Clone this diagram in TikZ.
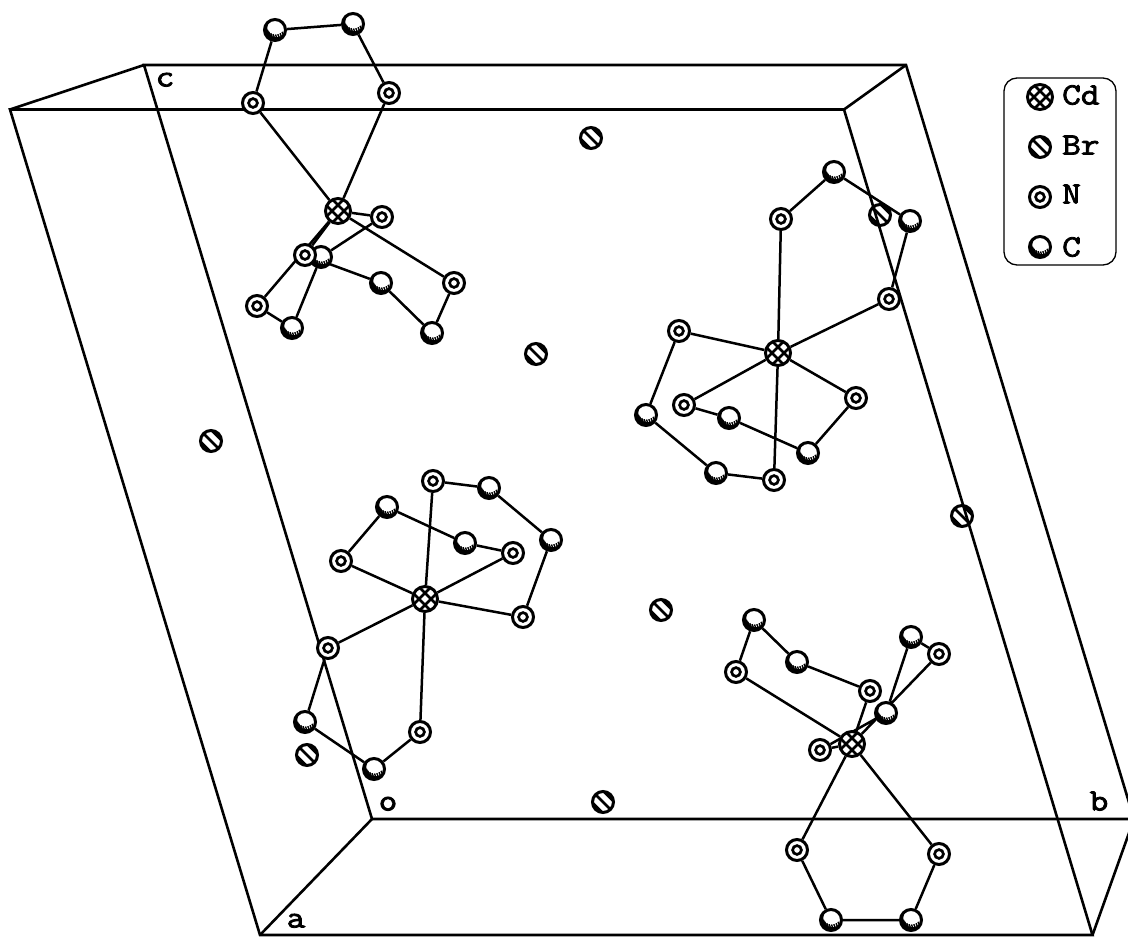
\documentclass[tikz,border=0pt]{standalone}
\usepackage{fontspec}
\newfontfamily\labfont[FakeBold=2.6,FakeStretch=1.17]{Latin Modern Mono}
\usetikzlibrary{backgrounds}
\tikzset{
  x=1pt,y=-1pt,
  cellline/.style={line width=2.6pt,line join=miter},
  bond/.style={line width=2.5pt,line join=round},
  atom/.style={circle,draw,fill=white,inner sep=0pt,line width=3pt,minimum size=21pt},
  nat/.style={atom,path picture={\draw[line width=2.7pt] (path picture bounding box.center) circle (4.4);}},
  cat/.style={atom,path picture={
    \begin{scope}[shift={(path picture bounding box.center)}]
      \path[fill=black,even odd rule] (0,0) circle (13) (1.5,-2) circle (9.3);
      \foreach \px/\py in {8.1/4.6,6.15/6.05,3.9/7,1.5/7.3,-0.9/7,-3.15/6.05,-5.1/4.6,-6.55/2.65}
        \draw[line width=1.4pt] (\px+0.3,\py+0.6) -- (\px-1.1,\py-2.8);
    \end{scope}}},
  brat/.style={atom,path picture={
    \begin{scope}[shift={(path picture bounding box.center)}]
      \foreach \d in {-5.6,0,5.6}
        \draw[line width=2.7pt] (-14+\d,-14-\d) -- (14+\d,14-\d);
    \end{scope}}},
  cdat/.style={atom,minimum size=25pt,path picture={
    \begin{scope}[shift={(path picture bounding box.center)}]
      \foreach \d in {-9,-3,3,9}{
        \draw[line width=2.6pt] (-16+\d,-16-\d) -- (16+\d,16-\d);
        \draw[line width=2.6pt] (-16+\d,16+\d) -- (16+\d,-16+\d);}
    \end{scope}}},
  lab/.style={font=\labfont\fontsize{31}{31}\selectfont,inner sep=0pt,text height=15pt,text depth=0pt},
  legendbox/.style={draw,rounded corners=13pt,line width=1.3pt}
}
\begin{document}
\begin{tikzpicture}
\useasboundingbox (0,0) rectangle (1128,945);
% cell corners
\coordinate (f1) at (10,109.5); \coordinate (f2) at (844,109.5);
\coordinate (f3) at (1092.5,935); \coordinate (f4) at (260,935);
\coordinate (b1) at (144,65); \coordinate (b2) at (906,65);
\coordinate (b3) at (1134,819); \coordinate (b4) at (372,819);
% group 1
\node[cdat] (Aa) at (338,211) {};
\node[nat] (Ab) at (253,103) {};
\node[nat] (Ac) at (389,93) {};
\node[cat] (Ad) at (275,30) {};
\node[cat] (Ae) at (353,24) {};
\node[nat] (Af) at (382,217) {};
\node[cat] (Ag) at (321,257) {};
\node[nat] (Ah) at (305,255) {};
\node[nat] (Ai) at (257,306) {};
\node[cat] (Aj) at (292,328) {};
\node[cat] (Ak) at (381,283) {};
\node[cat] (Al) at (432,333) {};
\node[nat] (Am) at (454,283) {};
% group 2
\node[cdat] (Ba) at (778,353) {};
\node[nat] (Bb) at (781,219) {};
\node[cat] (Bc) at (834,172) {};
\node[cat] (Bd) at (910,221) {};
\node[nat] (Be) at (889,299) {};
\node[nat] (Bf) at (679,331) {};
\node[cat] (Bg) at (646,415) {};
\node[cat] (Bh) at (716,473) {};
\node[nat] (Bi) at (774,480) {};
\node[nat] (Bj) at (684,405) {};
\node[cat] (Bk) at (729,418) {};
\node[cat] (Bl) at (808,453) {};
\node[nat] (Bm) at (856,398) {};
% group 3
\node[cdat] (Ca) at (425,599) {};
\node[nat] (Cb) at (433,481) {};
\node[cat] (Cc) at (489,488) {};
\node[cat] (Cd) at (551,540) {};
\node[nat] (Ce) at (523,617) {};
\node[nat] (Cf) at (341,561) {};
\node[cat] (Cg) at (387,507) {};
\node[cat] (Ch) at (465,543) {};
\node[nat] (Ci) at (513,553) {};
\node[nat] (Cj) at (328,648) {};
\node[cat] (Ck) at (305,722) {};
\node[cat] (Cl) at (374,769) {};
\node[nat] (Cm) at (420,732) {};
% group 4
\node[cdat] (Da) at (852,744) {};
\node[nat] (Db) at (736,672) {};
\node[cat] (Dc) at (754,620) {};
\node[cat] (Dd) at (797,662) {};
\node[nat] (De) at (870,691) {};
\node[nat] (Df) at (820,750) {};
\node[cat] (Dg) at (886,713) {};
\node[cat] (Dh) at (911,637) {};
\node[nat] (Di) at (939,654) {};
\node[nat] (Dj) at (797,850) {};
\node[cat] (Dk) at (831,920) {};
\node[cat] (Dl) at (911,920) {};
\node[nat] (Dm) at (939,854) {};
% free bromide
\node[brat] (Ea) at (591,138) {};
\node[brat] (Eb) at (536,354) {};
\node[brat] (Ec) at (211,441) {};
\node[brat] (Ed) at (307,755) {};
\node[brat] (Ee) at (661,610) {};
\node[brat] (Ef) at (603,802) {};
% axis labels
\node[lab] (lc) at (165,79) {c};
\node[lab] (lo) at (388,803) {o};
\node[lab] (lb) at (1099,803) {b};
\node[lab] (la) at (296,920) {a};
% legend
\node[legendbox,minimum width=112pt,minimum height=187pt] (key) at (1060,171.5) {};
\node[cdat] (kCd) at (1040,97) {};
\node[brat] (kBr) at (1040,147) {};
\node[nat] (kN) at (1040,197) {};
\node[cat] (kC) at (1040,247) {};
\node[lab,anchor=west] (tCd) at (1062,97) {Cd};
\node[lab,anchor=west] (tBr) at (1062,147) {Br};
\node[lab,anchor=west] (tN) at (1062,196) {N};
\node[lab,anchor=west] (tC) at (1062,249) {C};
\begin{pgfonlayer}{background}
  \node[brat] (Eg) at (880,215) {};
  \node[brat] (Eh) at (962,516) {};
  \draw[cellline] (f1) -- (f2) -- (f3) -- (f4) -- cycle;
  \draw[cellline] (b1) -- (b2) -- (b3) -- (b4) -- cycle;
  \draw[cellline] (f1) -- (b1) (f2) -- (b2) (f3) -- (b3) (f4) -- (b4);
  \draw[bond] (Aa)--(Ab)--(Ad)--(Ae)--(Ac)--(Aa);
  \draw[bond] (Aa)--(Am)--(Al)--(Ak)--(Ah)--(Aa);
  \draw[bond] (Aa)--(Af)--(Ag)--(Aj)--(Ai)--(Aa);
  \draw[bond] (Ba)--(Bb)--(Bc)--(Bd)--(Be)--(Ba);
  \draw[bond] (Ba)--(Bf)--(Bg)--(Bh)--(Bi)--(Ba);
  \draw[bond] (Ba)--(Bj)--(Bk)--(Bl)--(Bm)--(Ba);
  \draw[bond] (Ca)--(Cb)--(Cc)--(Cd)--(Ce)--(Ca);
  \draw[bond] (Ca)--(Cf)--(Cg)--(Ch)--(Ci)--(Ca);
  \draw[bond] (Ca)--(Cj)--(Ck)--(Cl)--(Cm)--(Ca);
  \draw[bond] (Da)--(Db)--(Dc)--(Dd)--(De)--(Da);
  \draw[bond] (Da)--(Df)--(Dg)--(Dh)--(Di)--(Da);
  \draw[bond] (Da)--(Dj)--(Dk)--(Dl)--(Dm)--(Da);
\end{pgfonlayer}
\end{tikzpicture}
\end{document}
